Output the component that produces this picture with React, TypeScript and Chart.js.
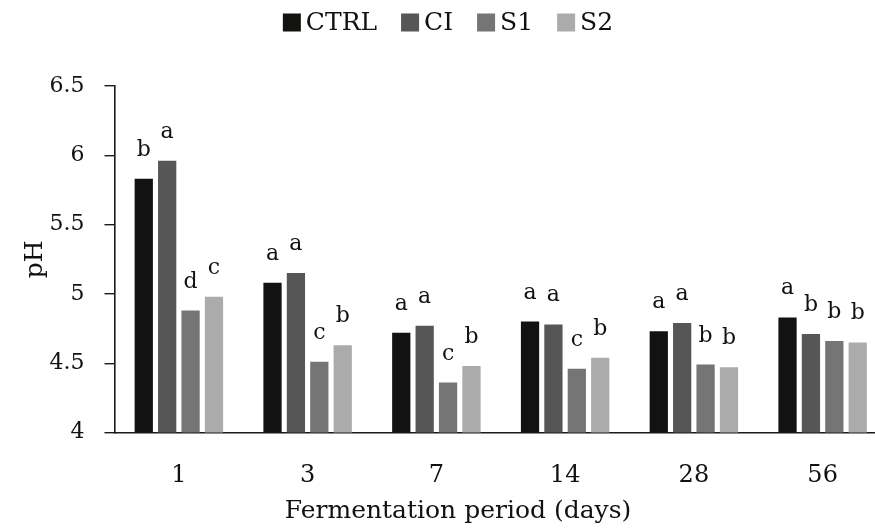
import React, { useEffect, useRef } from "react";
import { Chart, registerables } from "chart.js";

Chart.register(...registerables);

const categories = ["1", "3", "7", "14", "28", "56"];
const seriesNames = ["CTRL", "CI", "S1", "S2"];
const seriesColors = ["#121311", "#565656", "#757575", "#ababab"];
const ctrlValues = [5.83, 5.08, 4.72, 4.8, 4.73, 4.83];
const ciValues = [5.96, 5.15, 4.77, 4.78, 4.79, 4.71];
const s1Values = [4.88, 4.51, 4.36, 4.46, 4.49, 4.66];
const s2Values = [4.98, 4.63, 4.48, 4.54, 4.47, 4.65];
const ctrlLetters = ["b", "a", "a", "a", "a", "a"];
const ciLetters = ["a", "a", "a", "a", "a", "b"];
const s1Letters = ["d", "c", "c", "c", "b", "b"];
const s2Letters = ["c", "b", "b", "b", "b", "b"];
const yMin = 4;
const yMax = 6.5;
const yStep = 0.5;
const xTitle = "Fermentation period (days)";
const yTitle = "pH";

const FONT = "'DejaVu Serif', serif";

const letterPlugin = {
  id: "letterPlugin",
  afterDatasetsDraw(chart: any) {
    const ctx = chart.ctx;
    ctx.save();
    ctx.font = `22px ${FONT}`;
    ctx.fillStyle = "#111";
    ctx.textAlign = "center";
    ctx.textBaseline = "alphabetic";
    chart.data.datasets.forEach((ds: any, i: number) => {
      const meta = chart.getDatasetMeta(i);
      meta.data.forEach((el: any, j: number) => {
        ctx.fillText(ds.letters[j], el.x, el.y - 23);
      });
    });
    ctx.restore();
  },
};

const textPlugin = {
  id: "customText",
  afterDraw(chart: any) {
    const ctx = chart.ctx;
    ctx.save();
    ctx.font = `25px ${FONT}`;
    ctx.fillStyle = "#111";
    ctx.textAlign = "center";
    ctx.textBaseline = "alphabetic";
    ctx.fillText(xTitle, 458, 518);

    const box = 18;
    const gapText = 5;
    const gapItem = 24;
    const cy = 22.5;
    const centerX = 448;
    ctx.font = `25px ${FONT}`;
    const items = chart.data.datasets.map((ds: any) => ({
      label: ds.label,
      color: ds.backgroundColor,
      w: ctx.measureText(ds.label).width,
    }));
    const total =
      items.reduce((s: number, it: any) => s + box + gapText + it.w, 0) +
      gapItem * (items.length - 1);
    let x = centerX - total / 2;
    ctx.textBaseline = "middle";
    ctx.textAlign = "left";
    items.forEach((it: any) => {
      ctx.fillStyle = it.color;
      ctx.fillRect(x, cy - box / 2, box, box);
      ctx.fillStyle = "#111";
      ctx.fillText(it.label, x + box + gapText, cy + 1);
      x += box + gapText + it.w + gapItem;
    });
    ctx.restore();
  },
};

export default function App() {
  const canvasRef = useRef<HTMLCanvasElement | null>(null);

  useEffect(() => {
    if (!canvasRef.current) return;
    const values = [ctrlValues, ciValues, s1Values, s2Values];
    const letters = [ctrlLetters, ciLetters, s1Letters, s2Letters];
    const chart = new Chart(canvasRef.current, {
      type: "bar",
      data: {
        labels: categories,
        datasets: seriesNames.map((name, i) => ({
          label: name,
          data: values[i],
          backgroundColor: seriesColors[i],
          borderWidth: 0,
          categoryPercentage: 0.727,
          barPercentage: 0.78,
          letters: letters[i],
        })) as any,
      },
      options: {
        animation: false,
        responsive: true,
        maintainAspectRatio: false,
        layout: { padding: { top: 86, right: 13, left: 0, bottom: 0 } },
        plugins: {
          legend: { display: false },
          tooltip: { enabled: false },
        },
        scales: {
          x: {
            grid: { display: false },
            border: { display: true, color: "#1a1a1a", width: 1.6 },
            ticks: {
              padding: 21,
              color: "#111",
              font: { family: FONT, size: 24 },
            },
            title: { display: false },
            afterFit: (s: any) => {
              s.height = 98.5;
            },
          },
          y: {
            min: yMin,
            max: yMax,
            ticks: {
              stepSize: yStep,
              padding: 20,
              color: "#111",
              font: { family: FONT, size: 22 },
              callback: (v: any) => String(v),
            },
            grid: {
              drawOnChartArea: false,
              drawTicks: true,
              tickLength: 10,
              color: "#1a1a1a",
              lineWidth: 1.4,
            },
            border: { display: true, color: "#1a1a1a", width: 1.6 },
            title: {
              display: true,
              text: yTitle,
              color: "#111",
              font: { family: FONT, size: 25 },
              padding: { top: 20, bottom: 0 },
            },
            afterFit: (s: any) => {
              s.width = 114.5;
            },
          },
        },
      },
      plugins: [letterPlugin, textPlugin],
    });
    return () => chart.destroy();
  }, []);

  return (
    <div
      style={{
        position: "fixed",
        left: 0,
        top: 0,
        width: 875,
        height: 531,
        overflow: "hidden",
        background: "#fff",
      }}
    >
      <div style={{ position: "relative", width: 900, height: 531 }}>
        <canvas ref={canvasRef} />
      </div>
    </div>
  );
}
